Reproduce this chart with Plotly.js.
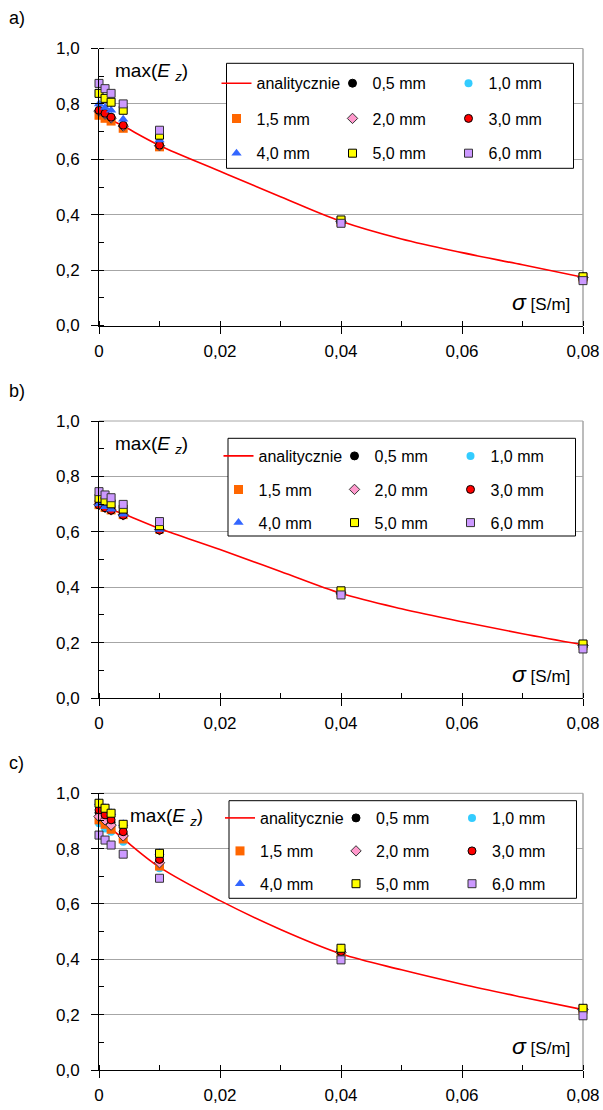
<!DOCTYPE html>
<html>
<head>
<meta charset="utf-8">
<script src="https://cdn.plot.ly/plotly-3.0.1.min.js"></script>
<style>html,body{margin:0;padding:0;background:#fff;}#chart{width:603px;height:1110px;}</style>
</head>
<body>
<div id="chart"></div>
<script>
// ---------- data ----------
const sigma = [0, 0.001, 0.002, 0.004, 0.01, 0.04, 0.08];
const sigmaAnalit = [0, 0.001, 0.002, 0.004, 0.01, 0.02, 0.03, 0.04, 0.05, 0.06, 0.07, 0.08];
const seriesNames = ["analitycznie", "0,5 mm", "1,0 mm", "1,5 mm", "2,0 mm", "3,0 mm", "4,0 mm", "5,0 mm", "6,0 mm"];
const xTickVals = [0, 0.02, 0.04, 0.06, 0.08];
const xTickText = ["0", "0,02", "0,04", "0,06", "0,08"];
const yTickVals = [0, 0.2, 0.4, 0.6, 0.8, 1.0];
const yTickText = ["0,0", "0,2", "0,4", "0,6", "0,8", "1,0"];
const panelLabels = ["a)", "b)", "c)"];

// panel a
const a_analit = [0.762, 0.752, 0.742, 0.720, 0.650, 0.557, 0.465, 0.376, 0.312, 0.263, 0.219, 0.174];
const a_05 = [0.772, 0.761, 0.747, 0.719, 0.649, 0.375, 0.172];
const a_10 = [0.775, 0.764, 0.750, 0.721, 0.650, 0.375, 0.173];
const a_15 = [0.759, 0.748, 0.738, 0.712, 0.645, 0.374, 0.172];
const a_20 = [0.774, 0.763, 0.749, 0.720, 0.649, 0.376, 0.173];
const a_30 = [0.777, 0.766, 0.752, 0.723, 0.651, 0.376, 0.173];
const a_40 = [0.800, 0.787, 0.777, 0.745, 0.670, 0.378, 0.174];
const a_50 = [0.838, 0.820, 0.806, 0.777, 0.687, 0.381, 0.176];
const a_60 = [0.874, 0.855, 0.838, 0.800, 0.705, 0.369, 0.162];
// panel b
const b_analit = [0.700, 0.690, 0.680, 0.665, 0.612, 0.536, 0.457, 0.378, 0.322, 0.275, 0.232, 0.192];
const b_05 = [0.698, 0.688, 0.679, 0.661, 0.607, 0.379, 0.190];
const b_10 = [0.699, 0.689, 0.680, 0.662, 0.608, 0.379, 0.190];
const b_15 = [0.698, 0.688, 0.679, 0.662, 0.610, 0.380, 0.190];
const b_20 = [0.698, 0.688, 0.679, 0.661, 0.608, 0.379, 0.190];
const b_30 = [0.697, 0.687, 0.678, 0.660, 0.606, 0.379, 0.190];
const b_40 = [0.700, 0.690, 0.681, 0.663, 0.608, 0.380, 0.190];
const b_50 = [0.721, 0.711, 0.701, 0.682, 0.622, 0.387, 0.195];
const b_60 = [0.745, 0.733, 0.723, 0.699, 0.637, 0.372, 0.177];
// panel c
const c_analit = [0.905, 0.888, 0.872, 0.836, 0.733, 0.612, 0.508, 0.420, 0.362, 0.310, 0.263, 0.218];
const c_05 = [0.930, 0.913, 0.895, 0.853, 0.755, 0.427, 0.220];
const c_10 = [0.892, 0.873, 0.861, 0.825, 0.729, 0.420, 0.224];
const c_15 = [0.904, 0.888, 0.870, 0.835, 0.737, 0.423, 0.219];
const c_20 = [0.916, 0.904, 0.885, 0.846, 0.749, 0.425, 0.219];
const c_30 = [0.940, 0.922, 0.904, 0.861, 0.761, 0.428, 0.220];
const c_40 = [0.966, 0.948, 0.930, 0.890, 0.785, 0.441, 0.224];
const c_50 = [0.964, 0.946, 0.928, 0.888, 0.783, 0.440, 0.223];
const c_60 = [0.849, 0.831, 0.813, 0.780, 0.693, 0.398, 0.196];

const panels = [
  [a_analit, a_05, a_10, a_15, a_20, a_30, a_40, a_50, a_60],
  [b_analit, b_05, b_10, b_15, b_20, b_30, b_40, b_50, b_60],
  [c_analit, c_05, c_10, c_15, c_20, c_30, c_40, c_50, c_60]
];

// ---------- styles ----------
const FONT = "Liberation Sans, Arial, sans-serif";
const markerStyles = [
  null,
  {symbol: "circle", color: "#000000", size: 8, line: {color: "#000000", width: 1}},
  {symbol: "circle", color: "#33CCFF", size: 8, line: {width: 0}},
  {symbol: "square", color: "#FF6600", size: 9, line: {width: 0}},
  {symbol: "diamond", color: "#FF99CC", size: 8, line: {color: "#333333", width: 1}},
  {symbol: "circle", color: "#FF0000", size: 8, line: {color: "#000000", width: 1}},
  {symbol: "triangle-up", color: "#3366FF", size: 9, line: {width: 0}},
  {symbol: "square", color: "#FFFF00", size: 8, line: {color: "#000000", width: 1}},
  {symbol: "square", color: "#CC99FF", size: 8, line: {color: "#333333", width: 1}}
];

const W = 603, H = 1110, L = 99, R = 20, T = 48, B = 40;
const PW = W - L - R, PH = H - T - B;
function fx(p) { return (p - L) / PW; }
function fy(p) { return (H - B - p) / PH; }

// pixel geometry per panel: [y of 1.0, y of 0.0]
const panelPix = [[48.5, 325.5], [421, 698], [793.3, 1070]];
// legend geometry per panel
const legendGeo = [
  {box: [226.5, 63.3, 573.5, 168.3], rows: [83.3, 118.5, 153.3], x0: 238.5, mx: 0.029},
  {box: [228, 438.3, 575.5, 536], rows: [456, 489.5, 522.7], x0: 240.5, mx: 0.029},
  {box: [229, 800.7, 576.5, 898.3], rows: [818, 851, 883.8], x0: 242, mx: 0.060}
];

const traces = [];
const layout = {
  width: W, height: H,
  margin: {l: L, r: R, t: T, b: B, pad: 0},
  paper_bgcolor: "#ffffff", plot_bgcolor: "#ffffff",
  font: {family: FONT, size: 17, color: "#000000"},
  showlegend: true,
  separators: ", ",
  shapes: [], annotations: []
};

panels.forEach(function (vals, p) {
  const sfx = p === 0 ? "" : String(p + 1);
  const xa = "x" + sfx, ya = "y" + sfx;
  vals.forEach(function (v, s) {
    const row = Math.floor(s / 3);
    const li = p * 3 + row + 1;
    const leg = li === 1 ? "legend" : "legend" + li;
    const t = {
      x: s === 0 ? sigmaAnalit : sigma, y: v, name: seriesNames[s], xaxis: xa, yaxis: ya,
      legend: leg, cliponaxis: false, hoverinfo: "skip"
    };
    if (s === 0) {
      t.mode = "lines";
      t.line = {color: "#FF0000", width: 1.6, shape: "spline", smoothing: 1};
    } else {
      t.mode = "markers";
      t.marker = markerStyles[s];
    }
    traces.push(t);
  });

  const pp = panelPix[p];
  const dom = [fy(pp[1]), Math.min(1, fy(pp[0]))];
  layout["xaxis" + sfx] = {
    anchor: ya, domain: [0, 1], range: [0, 0.08],
    tickmode: "array", tickvals: xTickVals, ticktext: xTickText,
    ticks: "outside", ticklen: 7, tickwidth: 1, tickcolor: "#000",
    showline: true, linecolor: "#000", linewidth: 1,
    showgrid: false, zeroline: false,
    tickfont: {family: FONT, size: 17, color: "#000"},
    ticklabelstandoff: 3,
    minor: {dtick: 0.01, ticks: "inside", ticklen: 5, tickcolor: "#000", showgrid: false},
    fixedrange: true
  };
  layout["yaxis" + sfx] = {
    anchor: xa, domain: dom, range: [0, 1.0],
    tickmode: "array", tickvals: yTickVals, ticktext: yTickText,
    ticks: "outside", ticklen: 7, tickwidth: 1, tickcolor: "#000",
    showline: true, linecolor: "#000", linewidth: 1,
    showgrid: true, gridcolor: "#A6A6A6", gridwidth: 1, zeroline: false,
    tickfont: {family: FONT, size: 17, color: "#000"},
    ticklabelstandoff: 8,
    minor: {dtick: 0.1, ticks: "inside", ticklen: 5, tickcolor: "#000", showgrid: false},
    fixedrange: true
  };

  // right border of plot area
  layout.shapes.push({type: "line", xref: xa + " domain", yref: ya + " domain",
    x0: 1, x1: 1, y0: 0, y1: 1, line: {color: "#A6A6A6", width: 1.5}, layer: "below"});
  // top border
  layout.shapes.push({type: "line", xref: xa + " domain", yref: ya + " domain",
    x0: 0, x1: 1, y0: 1, y1: 1, line: {color: "#A6A6A6", width: 1}, layer: "below"});

  // legend box
  const g = legendGeo[p];
  layout.shapes.push({type: "rect", xref: "paper", yref: "paper",
    x0: fx(g.box[0]), x1: fx(g.box[2]), y0: fy(g.box[3]), y1: fy(g.box[1]),
    fillcolor: "#ffffff", line: {color: "#000000", width: 1}, layer: "above"});
  g.rows.forEach(function (ry, r) {
    const li = p * 3 + r + 1;
    const key = li === 1 ? "legend" : "legend" + li;
    layout[key] = {
      orientation: "h", xref: "paper", yref: "paper",
      x: fx(g.x0 - 22), xanchor: "left", y: fy(ry), yanchor: "middle",
      entrywidth: 71, entrywidthmode: "pixels",
      bgcolor: "rgba(0,0,0,0)", borderwidth: 0,
      font: {family: FONT, size: 16, color: "#000"},
      itemclick: false, itemdoubleclick: false
    };
  });

  // axis labels inside plot
  layout.annotations.push({
    xref: xa + " domain", yref: ya + " domain", x: g.mx, y: 0.915,
    xanchor: "left", yanchor: "middle", showarrow: false,
    text: "max(<i>E</i> <sub><i>z</i></sub>)", font: {family: FONT, size: 19, color: "#000"}
  });
  layout.annotations.push({
    xref: xa + " domain", yref: ya + " domain", x: 0.978, y: 0.086,
    xanchor: "right", yanchor: "middle", showarrow: false,
    text: "<span style=\"font-size:23px\"><i>σ</i></span> [S/m]", font: {family: FONT, size: 17, color: "#000"}
  });
  // panel label
  layout.annotations.push({
    xref: "paper", yref: "paper", x: fx(7), y: fy(pp[0] - 30),
    xanchor: "left", yanchor: "middle", showarrow: false,
    text: panelLabels[p], font: {family: FONT, size: 18, color: "#000"}
  });
});

Plotly.newPlot("chart", traces, layout, {displayModeBar: false, staticPlot: true});
</script>
</body>
</html>
